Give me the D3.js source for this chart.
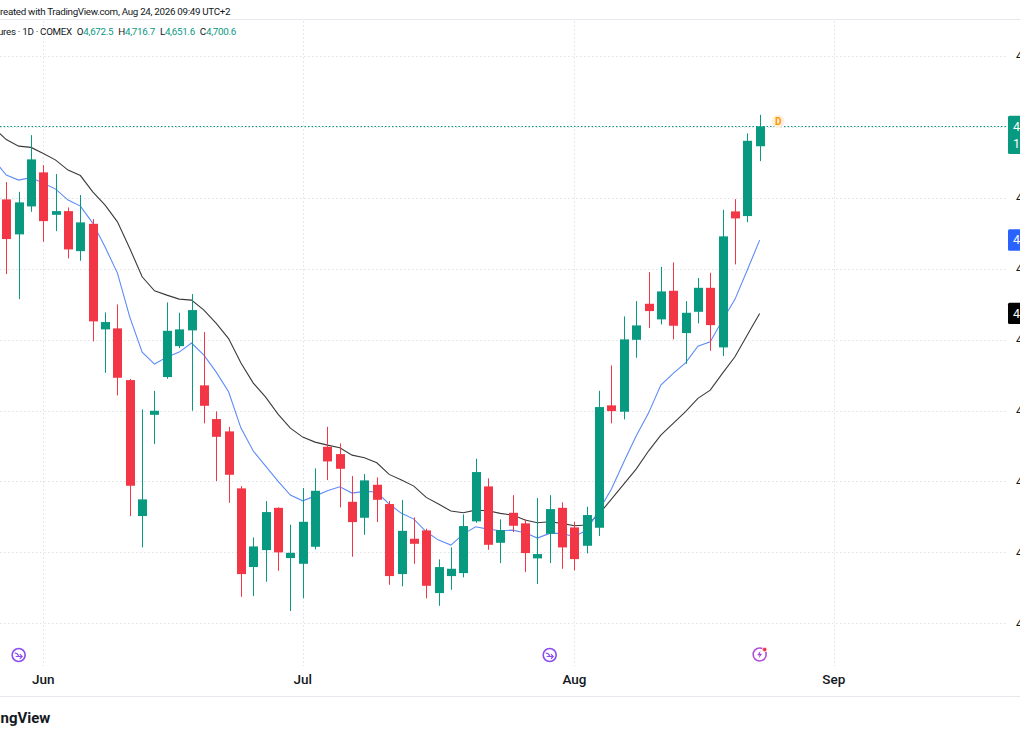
<!DOCTYPE html>
<html><head><meta charset="utf-8">
<script src="https://cdn.jsdelivr.net/npm/d3@7/dist/d3.min.js"></script>
<style>html,body{margin:0;padding:0;background:#fff;overflow:hidden}</style>
</head><body>
<svg id="c" width="1020" height="741"></svg>
<script>
// ---------- DATA ----------
const dates = ["2026-05-27","2026-05-28","2026-05-29",
"2026-06-01","2026-06-02","2026-06-03","2026-06-04","2026-06-05",
"2026-06-08","2026-06-09","2026-06-10","2026-06-11","2026-06-12",
"2026-06-15","2026-06-16","2026-06-17","2026-06-18",
"2026-06-22","2026-06-23","2026-06-24","2026-06-25","2026-06-26",
"2026-06-29","2026-06-30",
"2026-07-01","2026-07-02",
"2026-07-06","2026-07-07","2026-07-08","2026-07-09","2026-07-10",
"2026-07-13","2026-07-14","2026-07-15","2026-07-16","2026-07-17",
"2026-07-20","2026-07-21","2026-07-22","2026-07-23","2026-07-24",
"2026-07-27","2026-07-28","2026-07-29","2026-07-30","2026-07-31",
"2026-08-03","2026-08-04","2026-08-05","2026-08-06","2026-08-07",
"2026-08-10","2026-08-11","2026-08-12","2026-08-13","2026-08-14",
"2026-08-17","2026-08-18","2026-08-19","2026-08-20","2026-08-21",
"2026-08-24"];
const opens  = [4597.6,4548.3,4587.7,4635.7,4575.9,4581.1,4524.7,4563.2,4414.4,4415.8,
4342.9,4151.3,4294.0,4347.2,4390.8,4413.0,4335.5,4288.0,4270.6,4190.3,
4079.4,4103.3,4162.9,4092.1,4084.0,4108.0,4248.9,4238.6,4171.4,4148.9,
4195.4,4168.2,4069.5,4119.3,4131.1,4042.7,4066.7,4070.9,4143.8,4193.1,
4113.6,4155.9,4141.0,4091.6,4126.3,4162.9,4135.3,4109.4,4134.8,4307.3,
4298.3,4399.7,4450.5,4428.5,4468.8,4409.2,4439.2,4473.0,4389.0,4580.7,
4574.1,4672.5];
const highs  = [4622.0,4608.3,4688.2,4645.9,4633.3,4586.3,4603.7,4569.8,4438.3,4449.6,
4344.5,4301.6,4327.8,4452.4,4437.8,4464.1,4410.6,4298.8,4277.1,4193.5,
4121.2,4172.4,4163.5,4139.0,4190.7,4218.5,4277.1,4253.7,4207.6,4210.4,
4205.8,4172.4,4173.8,4149.4,4133.4,4090.2,4107.1,4153.6,4232.0,4204.4,
4146.6,4180.8,4146.6,4176.6,4180.8,4170.6,4143.2,4164.4,4327.8,4363.6,
4432.7,4454.3,4495.1,4502.6,4508.8,4454.3,4486.7,4494.2,4582.9,4598.0,
4690.6,4716.7];
const lows   = [4492.3,4457.1,4580.1,4537.8,4552.9,4514.5,4511.1,4397.5,4353.2,4321.4,
4151.3,4107.1,4252.7,4344.8,4388.0,4299.7,4281.9,4200.6,4170.0,4037.5,
4038.5,4058.7,4074.2,4017.4,4035.3,4104.3,4202.0,4163.5,4093.9,4124.9,
4142.8,4054.4,4052.2,4084.0,4035.3,4024.8,4047.4,4064.9,4141.8,4103.8,
4085.0,4128.7,4072.3,4055.4,4085.0,4077.0,4074.7,4098.7,4123.1,4281.9,
4287.5,4374.4,4416.2,4421.4,4400.3,4365.9,4422.8,4384.2,4376.8,4506.0,
4565.6,4651.6];
const closes = [4541.7,4593.4,4654.0,4567.0,4581.1,4527.1,4565.2,4425.7,4424.7,4346.2,
4194.0,4174.8,4299.7,4412.4,4414.4,4441.6,4306.7,4263.0,4209.5,4069.5,
4108.5,4156.9,4100.1,4099.5,4143.2,4186.9,4228.3,4217.9,4142.8,4201.6,
4174.2,4066.7,4130.5,4112.2,4053.0,4079.4,4077.0,4137.2,4213.3,4110.8,
4131.5,4137.6,4099.1,4097.7,4161.1,4107.1,4090.6,4152.7,4304.9,4299.2,
4400.3,4420.0,4440.2,4467.9,4419.5,4437.8,4473.0,4420.4,4545.5,4570.8,
4680.2,4700.6];
// moving averages (first value belongs to the previous session 2026-05-26)
const lineDates = ["2026-05-26"].concat(dates);
const maFast = [4653.0,4631.9,4624.8,4628.3,4620.2,4612.1,4596.6,4588.2,4564.2,4530.4,4493.7,
4431.7,4382.4,4365.5,4375.3,4382.4,4395.1,4378.2,4354.2,4326.4,4275.3,
4242.9,4221.7,4200.6,4180.8,4172.8,4179.4,4186.9,4192.5,4183.7,4186.1,
4185.1,4168.2,4155.1,4147.0,4129.1,4117.4,4110.4,4125.9,4136.2,4132.9,
4130.5,4131.5,4127.7,4120.2,4126.9,4126.9,4122.1,4131.5,4159.7,4189.3,
4227.4,4264.0,4296.4,4335.9,4352.4,4367.3,4390.8,4396.9,4427.5,4456.7,
4498.0,4540.2];
const maSlow = [4698.1,4681.9,4672.7,4670.9,4662.2,4653.0,4638.9,4631.2,4608.3,4589.6,4566.0,
4528.5,4488.5,4468.8,4462.7,4457.1,4455.7,4441.6,4422.8,4401.4,4366.9,
4338.7,4319.0,4295.0,4275.3,4262.6,4255.5,4251.3,4247.5,4237.2,4233.4,
4226.4,4210.0,4202.0,4193.5,4177.6,4168.2,4158.3,4155.9,4159.7,4158.7,
4155.1,4152.7,4145.6,4141.8,4143.2,4141.0,4137.6,4138.6,4154.1,4175.2,
4196.4,4217.5,4242.9,4265.4,4281.9,4298.5,4317.1,4328.8,4352.8,4375.8,
4406.4,4436.9];
const futureDates = ["2026-08-25","2026-08-26","2026-08-27","2026-08-28","2026-08-31","2026-09-01"];
const monthTickDates = ["2026-06-01","2026-07-01","2026-08-03","2026-09-01"];
const monthTickLabels = ["Jun","Jul","Aug","Sep"];
const priceTicks = [4000,4100,4200,4300,4400,4500,4600,4700,4800];
const eventDates = ["2026-05-28","2026-07-30"];
const last = {o:4672.5,h:4716.7,l:4651.6,c:4700.6};

// ---------- LAYOUT ----------
const W=1020,H=741;
const plotRight=1006, plotTop=20, plotBottom=666;
const up="#089981", down="#F23645";
const svg=d3.select("#c");
const font="Roboto, 'Noto Sans', sans-serif";

const allDates = lineDates.concat(futureDates);
const x = d3.scalePoint().domain(allDates).range([-6.05, 833.75]);
const y = d3.scaleLinear().domain([4000,4800]).range([623.4,55.8]);

// frame lines
svg.append("line").attr("x1",0).attr("x2",W).attr("y1",19.5).attr("y2",19.5).attr("stroke","#e6e8ee");
svg.append("line").attr("x1",0).attr("x2",W).attr("y1",696.5).attr("y2",696.5).attr("stroke","#e6e8ee");

// grid
const grid=svg.append("g");
grid.selectAll("line.h").data(priceTicks).join("line")
  .attr("x1",0).attr("x2",plotRight).attr("y1",d=>Math.round(y(d))+0.5).attr("y2",d=>Math.round(y(d))+0.5)
  .attr("stroke","#dfe1e6").attr("stroke-dasharray","1.5 2.5");
grid.selectAll("line.v").data(monthTickDates).join("line")
  .attr("x1",d=>Math.round(x(d))+0.5).attr("x2",d=>Math.round(x(d))+0.5)
  .attr("y1",plotTop+1).attr("y2",plotBottom)
  .attr("stroke","#dfe1e6").attr("stroke-dasharray","1.5 2.5");

// price line
svg.append("line").attr("x1",0).attr("x2",plotRight)
  .attr("y1",Math.round(y(last.c))+0.5).attr("y2",Math.round(y(last.c))+0.5)
  .attr("stroke",up).attr("stroke-dasharray","1.5 2");

// moving average lines
const lineGen = arr => d3.line().x((d,i)=>x(lineDates[i])).y(d=>y(d))(arr);
svg.append("path").attr("d",lineGen(maSlow)).attr("fill","none").attr("stroke","#3b3b3b").attr("stroke-width",1.1);
svg.append("path").attr("d",lineGen(maFast)).attr("fill","none").attr("stroke","#5d8cf7").attr("stroke-width",1.1);

// candles
const candles = dates.map((d,i)=>({d,o:opens[i],h:highs[i],l:lows[i],c:closes[i]}));
const bw=9;
const cg=svg.append("g");
cg.selectAll("line").data(candles).join("line")
  .attr("x1",d=>Math.round(x(d.d))+0.5).attr("x2",d=>Math.round(x(d.d))+0.5)
  .attr("y1",d=>y(d.h)).attr("y2",d=>y(d.l))
  .attr("stroke",d=>d.c>=d.o?up:down).attr("stroke-width",1);
cg.selectAll("rect").data(candles).join("rect")
  .attr("x",d=>Math.round(x(d.d))+0.5-bw/2).attr("width",bw)
  .attr("y",d=>y(Math.max(d.o,d.c)))
  .attr("height",d=>Math.max(1.5,Math.abs(y(d.o)-y(d.c))))
  .attr("fill",d=>d.c>=d.o?up:down);

// "D" marker
const dm=svg.append("g").attr("transform",`translate(${x(dates[dates.length-1])+18.5},121.5)`);
dm.append("circle").attr("r",6.5).attr("fill","#fff0dc");
dm.append("text").text("D").attr("text-anchor","middle").attr("dy","0.36em")
  .attr("font-family",font).attr("font-size",10).attr("font-weight",700).attr("fill","#ff9800");

// event icons
const ev=svg.append("g");
eventDates.forEach(d=>{
  const gx=x(d), gy=655;
  const g=ev.append("g").attr("transform",`translate(${gx},${gy})`);
  g.append("circle").attr("r",6.5).attr("fill","#fff").attr("stroke","#8a4df0").attr("stroke-width",1.6);
  g.append("path").attr("d","M-4,-2 Q-1,-2 0,1 M-3,1.5 L3.5,1.5 M1.2,-0.8 L3.5,1.5 L1.2,3.8")
   .attr("fill","none").attr("stroke","#8a4df0").attr("stroke-width",1.2);
});
{
  const g=ev.append("g").attr("transform",`translate(${x(dates[dates.length-1])},654.5)`);
  g.append("circle").attr("r",6.5).attr("fill","#fff").attr("stroke","#b44fd9").attr("stroke-width",1.6);
  g.append("path").attr("d","M1,-4 L-2.5,0.8 L0,0.8 L-1,4 L2.5,-0.8 L0,-0.8 Z").attr("fill","#a040d0");
  g.append("circle").attr("cx",5).attr("cy",-5).attr("r",2.3).attr("fill","#f23645").attr("stroke","#fff").attr("stroke-width",0.8);
}

// time axis labels
svg.selectAll("text.m").data(monthTickDates).join("text")
  .attr("x",d=>x(d)).attr("y",684).attr("text-anchor","middle")
  .attr("font-family",font).attr("font-size",13.5).attr("font-weight",500).attr("fill","#131722")
  .text((d,i)=>monthTickLabels[i]);

// price axis labels (clipped by window edge); the one hidden under the last-price box is skipped
const fmt=d3.format(",.1f");
const boxCovered = v => Math.abs(y(v)-y(last.c))<14;
svg.selectAll("text.p").data(priceTicks.filter(v=>!boxCovered(v))).join("text")
  .attr("x",1016).attr("y",d=>y(d)).attr("dy","0.35em")
  .attr("font-family",font).attr("font-size",12.5).attr("fill","#131722")
  .text(d=>fmt(d));

// price boxes
function box(y0,h,color,lines){
  svg.append("rect").attr("x",1008).attr("y",y0).attr("width",80).attr("height",h).attr("fill",color).attr("rx",1.5);
  lines.forEach((t,i)=>svg.append("text").attr("x",1013).attr("y",y0+10.5+i*17).attr("dy","0.35em")
    .attr("font-family",font).attr("font-size",12.5).attr("fill","#fff").text(t));
}
box(115.7,38.3,up,[fmt(last.c),"14:10:45"]);
box(229.3,21.4,"#2962FF",[fmt(maFast[maFast.length-1])]);
box(302.7,21.4,"#000000",[fmt(maSlow[maSlow.length-1])]);

// header
svg.append("text").attr("x",-6).attr("y",14.5)
  .attr("font-family",font).attr("font-size",9.8).attr("letter-spacing",-0.3).attr("fill","#131722")
  .text("Created with TradingView.com, Aug 24, 2026 09:49 UTC+2");
const h2=svg.append("text").attr("x",-15).attr("y",34.5)
  .attr("font-family",font).attr("font-size",9.8).attr("letter-spacing",-0.3).attr("fill","#131722");
h2.append("tspan").text("Futures · 1D · COMEX");
[["O",last.o],["H",last.h],["L",last.l],["C",last.c]].forEach(([k,v])=>{
  h2.append("tspan").attr("dx",5).text(k);
  h2.append("tspan").attr("fill",up).text(d3.format(",.1f")(v));
});

// footer
svg.append("text").attr("x",-34).attr("y",723)
  .attr("font-family",font).attr("font-size",15).attr("font-weight",700).attr("fill","#131722")
  .text("TradingView");
</script>
</body></html>
